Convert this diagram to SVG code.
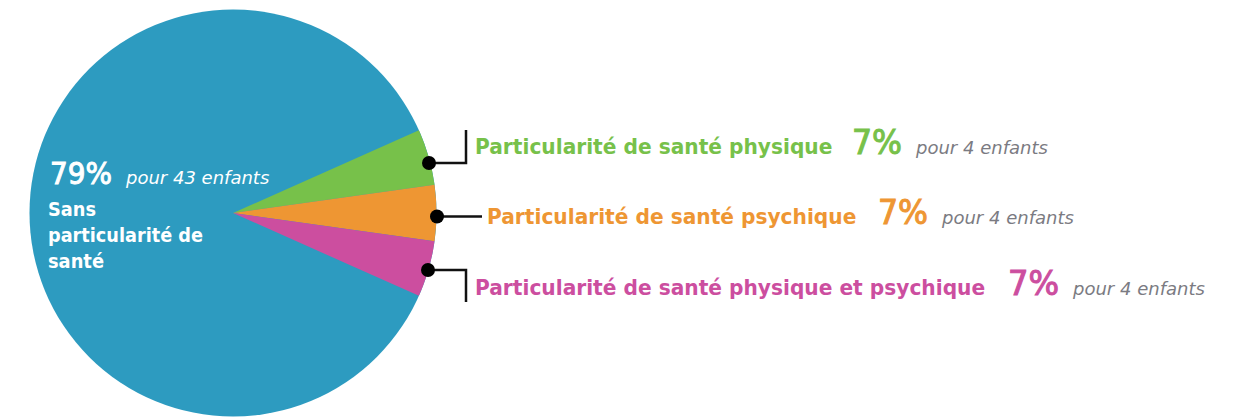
<svg xmlns="http://www.w3.org/2000/svg" width="1237" height="417" viewBox="0 0 1237 417">
<style>
.lbl{font-family:"DejaVu Sans","Verdana",sans-serif;font-weight:bold;font-size:20.2px}
.pct{font-family:"DejaVu Sans","Verdana",sans-serif;font-size:34px;stroke-width:1.1}
.cnt{font-family:"DejaVu Sans","Verdana",sans-serif;font-style:italic;font-size:18px;fill:#7b7b82}
.wb{font-family:"DejaVu Sans","Verdana",sans-serif;font-weight:bold;font-size:20px;fill:#ffffff}
.conn{fill:none;stroke:#111111;stroke-width:2.5}
</style>
<rect width="1237" height="417" fill="#ffffff"/>
<g id="pie">
  <circle id="slice-sans" cx="233" cy="213" r="203.5" fill="#2d9bc0"/>
  <path id="slice-physique" d="M233,213 L418.9,130.2 A203.5,203.5 0 0 1 434.5,184.7 Z" fill="#77c14a"/>
  <path id="slice-psychique" d="M233,213 L434.5,184.7 A203.5,203.5 0 0 1 434.5,241.3 Z" fill="#ee9633"/>
  <path id="slice-both" d="M233,213 L434.5,241.3 A203.5,203.5 0 0 1 418.9,295.8 Z" fill="#cc4e9f"/>
</g>
<g id="node-sans">
  <text x="50" y="184" style="font-family:'DejaVu Sans',Verdana,sans-serif;font-size:30px;fill:#ffffff;stroke:#ffffff;stroke-width:1" textLength="62" lengthAdjust="spacingAndGlyphs">79%</text>
  <text x="126" y="184" class="cnt" style="fill:#ffffff">pour 43 enfants</text>
  <text x="48" y="216" class="wb" textLength="48" lengthAdjust="spacingAndGlyphs">Sans</text>
  <text x="48" y="242" class="wb" textLength="155" lengthAdjust="spacingAndGlyphs">particularité de</text>
  <text x="48" y="268" class="wb" textLength="56" lengthAdjust="spacingAndGlyphs">santé</text>
</g>
<g id="connectors">
  <polyline class="conn" points="429,163 466,163 466,130"/>
  <polyline class="conn" points="437,216.5 482,216.5"/>
  <polyline class="conn" points="428,270 466,270 466,302"/>
  <circle cx="429" cy="163" r="7" fill="#000000"/>
  <circle cx="437" cy="216.5" r="7" fill="#000000"/>
  <circle cx="428" cy="270" r="7" fill="#000000"/>
</g>
<g id="node-physique">
  <text transform="translate(475,154) scale(1,1.09)" class="lbl" fill="#77c14a">Particularité de santé physique</text>
  <text x="852" y="154" class="pct" fill="#77c14a" stroke="#77c14a" textLength="50" lengthAdjust="spacingAndGlyphs">7%</text>
  <text x="916" y="154" class="cnt">pour 4 enfants</text>
</g>
<g id="node-psychique">
  <text transform="translate(487,224) scale(1,1.09)" class="lbl" fill="#ee9633">Particularité de santé psychique</text>
  <text x="878" y="224" class="pct" fill="#ee9633" stroke="#ee9633" textLength="50" lengthAdjust="spacingAndGlyphs">7%</text>
  <text x="942" y="224" class="cnt">pour 4 enfants</text>
</g>
<g id="node-both">
  <text transform="translate(475,295) scale(1,1.09)" class="lbl" fill="#cc4e9f">Particularité de santé physique et psychique</text>
  <text x="1008" y="295" class="pct" fill="#cc4e9f" stroke="#cc4e9f" textLength="51" lengthAdjust="spacingAndGlyphs">7%</text>
  <text x="1073" y="295" class="cnt">pour 4 enfants</text>
</g>
</svg>
